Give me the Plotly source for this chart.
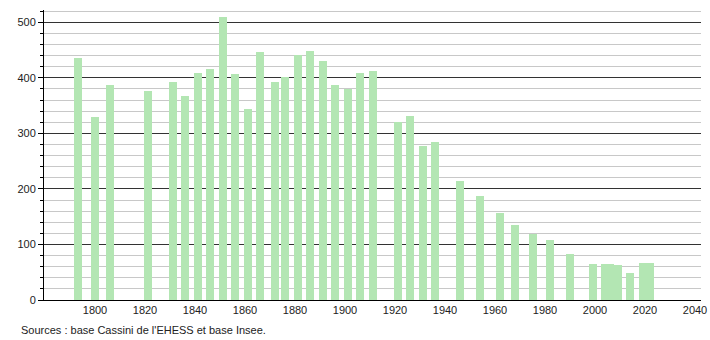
import plotly.graph_objects as go

years = [1793, 1800, 1806, 1821, 1831, 1836, 1841, 1846, 1851, 1856,
         1861, 1866, 1872, 1876, 1881, 1886, 1891, 1896, 1901, 1906,
         1911, 1921, 1926, 1931, 1936, 1946, 1954, 1962, 1968, 1975,
         1982, 1990, 1999, 2004, 2006, 2009, 2014, 2019, 2022]
population = [436, 330, 387, 377, 393, 368, 409, 416, 510, 407,
              344, 447, 393, 402, 441, 449, 431, 387, 380, 409,
              413, 320, 332, 278, 285, 214, 187, 156, 135, 119,
              108, 83, 65, 65, 65, 63, 49, 67, 67]
x_ticks = [1800, 1820, 1840, 1860, 1880, 1900, 1920, 1940, 1960, 1980, 2000, 2020, 2040]
y_ticks = [0, 100, 200, 300, 400, 500]
source_text = "Sources : base Cassini de l'EHESS et base Insee."

fig = go.Figure()
fig.add_trace(go.Bar(
    x=years, y=population, width=[3.2] * len(years),
    marker=dict(color="#b3e6b3", line=dict(width=0)),
    hoverinfo="x+y",
))

font = dict(family="Liberation Sans, Arial, sans-serif", size=11, color="#222")

fig.update_layout(
    width=710, height=340,
    margin=dict(l=44, r=9, t=10, b=40),
    paper_bgcolor="white", plot_bgcolor="white",
    showlegend=False, bargap=0,
    font=font,
    xaxis=dict(
        range=[1779.6, 2042.4], tickvals=x_ticks, ticktext=[str(v) for v in x_ticks],
        showgrid=False, zeroline=False, showline=True, linecolor="#000", linewidth=1,
        ticks="", tickfont=font, automargin=False,
    ),
    yaxis=dict(
        range=[0, 522], tickvals=y_ticks, ticktext=[str(v) for v in y_ticks],
        showgrid=True, gridcolor="#333", gridwidth=1,
        zeroline=False, showline=True, linecolor="#000", linewidth=1,
        ticks="outside", ticklen=5, tickcolor="#000", tickfont=font, automargin=False,
        minor=dict(dtick=20, tick0=0, ticks="outside", ticklen=3, tickcolor="#000",
                   showgrid=True, gridcolor="#c8c8c8", gridwidth=1),
        layer="below traces",
    ),
    annotations=[dict(
        text=source_text, xref="paper", yref="paper", x=-44/657, y=-22/290,
        xanchor="left", yanchor="top", showarrow=False, xshift=19,
        font=dict(family="Liberation Sans, Arial, sans-serif", size=11, color="#222"),
    )],
)

fig.write_html("out.html")
